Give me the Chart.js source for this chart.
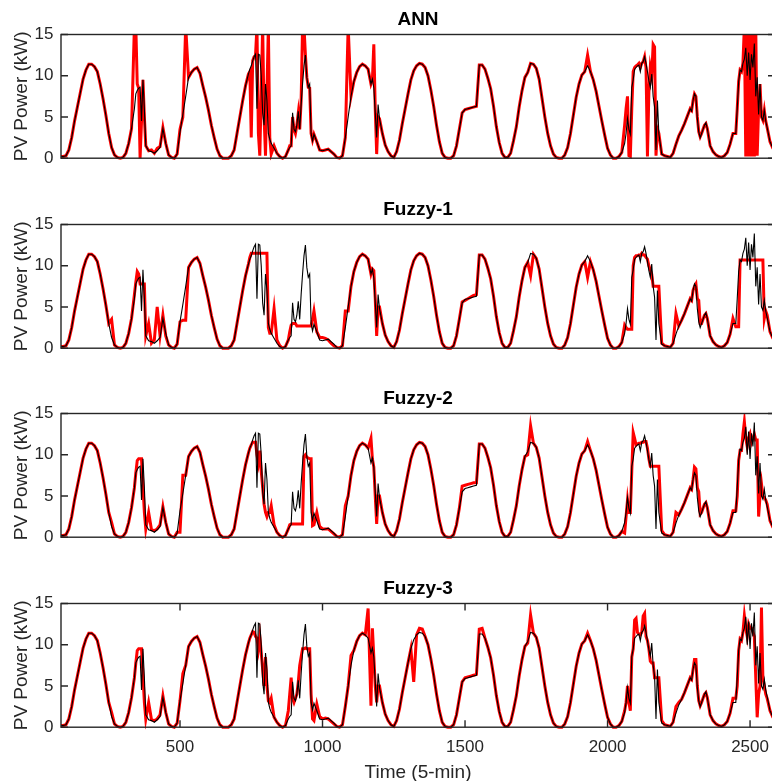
<!DOCTYPE html>
<html>
<head>
<meta charset="utf-8">
<script src="https://cdn.jsdelivr.net/npm/chart.js@4.4.1/dist/chart.umd.min.js"></script>
<style>
  html, body { margin: 0; padding: 0; background: #ffffff; }
  body { width: 772px; height: 781px; overflow: hidden; position: relative; }
  .panel { position: absolute; left: 0; }
  canvas { display: block; }
</style>
</head>
<body>
<div class="panel" style="top:0px"><canvas id="c0" width="790" height="190"></canvas></div>
<div class="panel" style="top:190px"><canvas id="c1" width="790" height="190"></canvas></div>
<div class="panel" style="top:379px"><canvas id="c2" width="790" height="190"></canvas></div>
<div class="panel" style="top:569px"><canvas id="c3" width="790" height="220"></canvas></div>
<script>
// ---- data: base samples every 10 time steps starting at step 80 ----
const timeStart = 80;
const timeStep = 10;

const actual = [
0.2,0.2,0.3,1.0,2.5,4.5,6.2,7.9,9.6,10.7,
11.4,11.4,11.1,10.5,9.0,7.2,5.2,3.0,1.3,0.4,
0.1,0.0,0.1,0.6,1.8,3.6,6.0,8.2,8.6,9.5,
1.5,0.9,0.8,0.6,0.9,1.3,3.6,1.8,0.4,0.1,
0.0,0.5,3.2,5.3,7.5,9.8,10.4,10.8,11.0,10.3,
8.8,7.4,5.8,4.0,2.5,1.1,0.3,0.0,0.0,0.0,
0.3,1.0,3.0,5.0,7.0,8.8,10.2,11.2,12.3,6.0,
12.5,5.5,9.0,3.0,1.8,1.2,0.6,0.2,0.0,0.2,
1.0,1.5,3.5,4.0,3.5,9.0,12.5,8.6,3.0,2.9,
2.0,1.0,0.9,1.0,1.1,0.8,0.5,0.1,0.0,0.3,
2.5,5.0,7.5,9.3,10.4,11.1,11.4,11.2,10.8,9.0,
8.5,2.5,4.8,3.0,1.6,0.8,0.3,0.1,0.8,2.2,
4.2,6.0,7.8,9.5,10.6,11.2,11.5,11.4,11.0,10.0,
8.3,6.3,4.0,2.0,0.6,0.1,0.0,0.0,0.3,1.5,
3.5,5.5,5.9,6.0,6.1,6.2,6.3,11.3,11.3,10.8,
9.7,8.4,6.3,3.8,1.9,0.6,0.1,0.1,0.6,2.1,
3.8,6.2,8.2,9.8,10.4,11.5,11.4,10.9,9.6,7.3,
5.0,3.0,1.5,0.5,0.1,0.0,0.0,0.4,1.3,3.0,
5.2,7.4,9.0,10.1,10.5,11.2,10.5,9.5,8.1,6.3,
4.5,2.8,1.2,0.4,0.0,0.0,0.2,0.7,1.8,4.8,
2.9,9.5,11.0,11.3,11.5,12.3,10.5,8.6,7.5,1.0,
3.0,0.5,0.3,0.2,0.1,0.6,1.7,2.7,3.4,4.2,
5.1,6.0,7.0,7.5,3.2,3.0,4.0,3.6,1.5,0.8,
0.4,0.2,0.1,0.3,0.7,1.7,3.0,3.0,9.3,10.5,
12.0,10.0,9.5,11.0,7.5,5.3,5.0,5.8,3.7,2.0,
1.2,0.8
];

const ann = [
0.2,0.2,0.3,1.0,2.5,4.5,6.2,7.9,9.6,10.7,
11.4,11.4,11.1,10.5,9.0,7.2,5.2,3.0,1.3,0.4,
0.1,0.0,0.1,0.6,1.8,3.6,16,9.0,0.0,9.5,
1.5,0.9,1.0,0.6,1.2,1.4,3.7,1.8,0.4,0.1,
0.0,0.5,3.5,5.0,16,9.8,10.4,10.8,11.0,10.3,
8.8,7.4,5.8,4.0,2.5,1.1,0.3,0.0,0.0,0.0,
0.3,1.0,3.0,5.0,7.0,8.8,10.2,2.5,12.3,16,
0.3,16,0.3,16,0.5,1.5,0.6,0.2,0.0,0.2,
1.0,1.5,3.5,4.0,3.5,16,12.5,8.6,3.0,2.9,
2.0,1.0,0.9,1.0,1.1,0.8,0.5,0.1,0.0,0.3,
2.5,16,7.5,9.3,10.4,11.1,11.4,11.2,10.8,9.0,
13.8,0.5,4.8,3.0,1.6,0.8,0.3,0.1,0.8,2.2,
4.2,6.0,7.8,9.5,10.6,11.2,11.5,11.4,11.0,10.0,
8.3,6.3,4.0,2.0,0.6,0.1,0.0,0.0,0.3,1.5,
3.5,5.5,5.9,6.0,6.1,6.2,6.3,11.3,11.3,10.8,
9.7,8.4,6.3,3.8,1.9,0.6,0.1,0.1,0.6,2.1,
3.8,6.2,8.2,9.8,10.4,11.5,11.4,10.9,9.6,7.3,
5.0,3.0,1.5,0.5,0.1,0.0,0.0,0.4,1.3,3.0,
5.2,7.4,9.0,10.1,10.5,12.5,10.5,9.5,8.1,6.3,
4.5,2.8,1.2,0.4,0.0,0.0,0.2,0.7,4.0,7.5,
0.2,10.5,11.2,11.5,11.5,12.3,0.2,11.0,13.8,0.3,
3.0,0.5,0.3,0.2,0.1,0.6,1.7,2.7,3.4,4.2,
5.1,6.0,7.0,7.5,3.2,3.0,4.0,3.6,1.5,0.8,
0.4,0.2,0.1,0.3,0.7,1.7,3.0,3.0,9.3,10.5,
16,16,16,16,16,6.0,5.0,5.8,3.7,2.0,
1.2,0.8
];

const fuzzy1 = [
0.2,0.2,0.3,1.0,2.5,4.5,6.2,7.9,9.6,10.7,
11.4,11.4,11.1,10.5,9.0,7.2,5.2,3.0,3.5,0.4,
0.1,0.0,0.1,0.6,1.8,3.6,6.5,9.3,7.8,7.8,
1.5,3.0,0.6,1.0,5.0,1.5,4.0,1.5,0.4,0.1,
0.0,0.5,3.2,3.4,3.4,9.8,10.4,10.8,11.0,10.3,
8.8,7.4,5.8,4.0,2.5,1.1,0.3,0.0,0.0,0.0,
0.3,1.0,3.0,5.0,7.0,8.8,10.2,11.5,11.5,11.5,
11.5,11.5,11.5,2.5,1.8,4.8,1.0,0.3,0.0,0.2,
1.0,2.8,3.0,2.7,2.7,2.7,2.7,2.7,2.7,4.5,
2.0,1.3,1.3,1.2,1.0,0.6,0.3,0.1,0.0,0.3,
4.5,4.5,7.5,9.3,10.4,11.1,11.4,11.2,10.8,9.0,
9.4,1.5,5.0,3.0,1.6,0.8,0.3,0.1,0.8,2.2,
4.2,6.0,7.8,9.5,10.6,11.2,11.5,11.4,11.0,10.0,
8.3,6.3,4.0,2.0,0.6,0.1,0.0,0.0,0.3,1.5,
3.5,5.6,5.8,6.0,6.2,6.4,6.5,11.3,11.3,10.8,
9.7,8.4,6.3,3.8,1.9,0.6,0.1,0.1,0.6,2.1,
3.8,6.2,8.2,9.8,10.4,8.8,11.4,10.9,9.6,7.3,
5.0,3.0,1.5,0.5,0.1,0.0,0.0,0.4,1.3,3.0,
5.2,7.4,9.0,10.1,10.5,8.6,10.5,9.5,8.1,6.3,
4.5,2.8,1.2,0.4,0.0,0.0,0.2,0.7,2.8,2.3,
2.3,10.0,11.2,11.3,11.5,11.3,10.8,9.5,7.5,7.5,
7.5,0.6,0.3,0.2,0.1,0.6,4.2,2.7,3.4,4.2,
5.1,6.0,7.0,7.8,5.8,3.0,4.0,3.6,1.5,0.8,
0.4,0.2,0.1,0.3,0.7,1.7,3.6,2.6,2.6,10.7,
10.7,10.7,10.7,10.7,10.7,10.7,10.7,3.6,4.0,2.0,
1.2,0.8
];

const fuzzy2 = [
0.2,0.2,0.3,1.0,2.5,4.5,6.2,7.9,9.6,10.7,
11.4,11.4,11.1,10.5,9.0,7.2,5.2,3.0,1.8,0.4,
0.1,0.0,0.1,0.6,1.8,3.6,6.0,9.3,9.5,6.2,
1.0,3.0,0.9,0.8,1.0,1.5,3.7,1.8,0.4,0.1,
0.0,0.6,0.6,7.5,7.5,9.8,10.4,10.8,11.0,10.3,
8.8,7.4,5.8,4.0,2.5,1.1,0.3,0.0,0.0,0.0,
0.3,1.0,3.0,5.0,7.0,8.8,10.2,11.2,11.5,10.0,
10.5,6.0,3.0,3.0,3.8,1.5,0.6,0.2,0.0,0.2,
1.0,1.6,1.6,1.6,1.6,1.6,10.0,9.6,9.5,1.5,
3.0,1.3,1.0,1.0,1.0,0.7,0.4,0.1,0.0,0.3,
3.8,5.0,7.5,9.3,10.4,11.1,11.4,11.2,10.8,12.0,
8.5,1.6,5.0,3.0,1.6,0.8,0.3,0.1,0.8,2.2,
4.2,6.0,7.8,9.5,10.6,11.2,11.5,11.4,11.0,10.0,
8.3,6.3,4.0,2.0,0.6,0.1,0.0,0.0,0.3,1.5,
3.5,6.2,6.3,6.4,6.5,6.6,6.6,11.3,11.3,10.8,
9.7,8.4,6.3,3.8,1.9,0.6,0.1,0.1,0.6,2.1,
3.8,6.2,8.2,9.8,10.0,13.5,11.4,10.9,9.6,7.3,
5.0,3.0,1.5,0.5,0.1,0.0,0.0,0.4,1.3,3.0,
5.2,7.4,9.0,10.1,10.5,11.6,10.5,9.5,8.1,6.3,
4.5,2.8,1.2,0.4,0.0,0.0,0.2,0.7,0.5,4.5,
3.0,12.7,11.2,11.4,11.5,11.6,10.8,8.6,8.6,8.6,
8.6,0.8,0.3,0.2,0.1,0.6,3.0,2.7,3.4,4.2,
5.1,6.0,7.0,8.3,5.5,3.0,4.0,3.6,1.5,0.8,
0.4,0.2,0.1,0.3,0.7,1.7,3.2,3.2,9.3,10.5,
14.0,11.0,12.5,12.0,11.8,2.5,6.5,4.8,4.0,2.0,
1.2,0.8
];

const fuzzy3 = [
0.2,0.2,0.3,1.0,2.5,4.5,6.2,7.9,9.6,10.7,
11.4,11.4,11.1,10.5,9.0,7.2,5.2,3.0,1.8,0.4,
0.1,0.0,0.1,0.6,1.8,3.6,6.0,9.3,9.5,6.3,
1.0,3.0,0.9,0.8,1.0,1.5,3.8,1.8,0.4,0.1,
0.0,0.5,3.2,6.5,7.5,9.8,10.4,10.8,11.0,10.3,
8.8,7.4,5.8,4.0,2.5,1.1,0.3,0.0,0.0,0.0,
0.3,1.0,3.0,5.0,7.0,8.8,10.2,11.2,11.5,10.8,
11.0,7.0,8.5,3.2,3.5,1.2,0.6,0.2,0.0,0.2,
2.0,6.0,3.0,4.0,7.5,9.5,9.6,9.5,4.0,0.8,
2.8,1.3,1.0,1.1,1.0,0.7,0.4,0.1,0.0,0.3,
2.5,5.0,8.7,9.3,10.4,11.1,11.4,11.2,14.4,2.6,
8.5,3.0,5.0,3.0,1.6,0.8,0.3,0.1,0.8,2.2,
4.2,6.0,7.8,9.5,5.5,11.2,12.0,11.9,11.0,10.0,
8.3,6.3,4.0,2.0,0.6,0.1,0.0,0.0,0.3,1.5,
3.5,5.5,6.0,6.1,6.2,6.3,6.4,11.9,12.0,10.8,
9.7,8.4,6.3,3.8,1.9,0.6,0.1,0.1,0.6,2.1,
3.8,6.2,8.2,9.8,10.2,13.6,11.4,10.9,9.6,7.3,
5.0,3.0,1.5,0.5,0.1,0.0,0.0,0.4,1.3,3.0,
5.2,7.4,9.0,10.1,10.5,11.4,10.5,9.5,8.1,6.3,
4.5,2.8,1.2,0.4,0.0,0.0,0.2,0.7,2.0,5.0,
2.0,9.5,13.2,11.3,11.5,13.8,10.5,8.0,7.8,6.0,
6.0,0.8,0.3,0.2,0.1,0.6,2.5,3.0,3.4,4.2,
5.1,6.0,7.0,8.2,3.2,3.0,4.0,3.6,1.5,0.8,
0.4,0.2,0.1,0.3,0.7,1.7,3.5,3.5,9.3,10.5,
13.5,11.0,12.0,11.5,6.0,4.0,14.5,5.0,3.5,2.0,
1.2,0.8
];

// ---- extra samples in the cloudy stretches (time steps and values) ----
const detailTime = [
345,355,365,375,
735,745,755,765,775,785,795,805,815,
885,895,905,915,925,935,945,955,965,
1175,1185,1195,
2065,2075,2085,2095,2105,2115,2125,2135,2145,2155,2165,2175,
2295,2305,2315,2325,2335,2345,
2455,2465,2475,2485,2495,2505,2515,2525,2535,2545,2555
];
const actualDetail = [
7.8,8.5,4.5,6.0,
9.5,10.8,11.8,12.6,12.6,10.0,4.0,7.0,2.3,
1.3,5.5,3.2,5.7,6.5,11.2,9.8,9.0,2.1,
9.6,5.5,6.5,
3.0,3.5,8.6,10.8,11.2,10.5,11.7,11.5,9.4,10.2,6.2,7.0,
5.7,7.8,4.8,2.5,3.5,4.3,
6.0,10.7,11.5,13.4,12.8,12.6,13.9,9.8,9.0,4.6,4.5
];
const annDetail = [
16,8.5,4.5,5.0,
9.5,10.5,11.8,12.5,3.0,8.0,5.0,8.0,2.5,
1.5,5.0,3.0,5.5,7.0,16,9.8,8.5,2.2,
9.5,6.0,5.0,
6.0,0.3,6.0,11.0,11.3,11.0,11.7,11.0,8.0,10.0,13.5,3.5,
5.8,7.8,5.0,2.6,3.5,4.2,
6.0,10.7,11.5,0.2,0.2,0.2,0.2,0.3,9.0,4.6,4.5
];
const fuzzy1Detail = [
8.0,9.0,7.8,7.8,
9.5,11.0,11.5,11.5,11.5,11.5,11.5,11.5,1.8,
2.0,3.0,3.0,2.7,2.7,2.7,2.7,2.7,3.5,
9.6,6.0,5.0,
2.5,2.3,2.3,11.0,11.2,11.2,11.3,11.0,10.0,9.0,7.5,7.5,
5.8,7.5,6.0,3.0,3.5,4.2,
2.6,10.7,10.7,10.7,10.7,10.7,10.7,10.7,10.7,10.7,4.5
];
const fuzzy2Detail = [
7.8,9.5,9.5,3.0,
9.5,10.8,11.5,11.5,9.0,8.0,4.0,2.5,3.0,
1.5,1.6,1.6,1.6,1.6,9.8,9.7,9.5,1.4,
9.5,5.0,5.0,
2.5,3.0,8.0,12.0,11.3,11.4,11.5,11.6,9.5,8.6,8.6,8.6,
5.8,8.5,6.0,2.8,3.5,4.2,
5.0,10.5,12.5,12.0,12.0,11.5,12.5,11.8,5.0,5.0,4.5
];
const fuzzy3Detail = [
7.8,9.5,9.5,3.0,
9.5,10.8,11.6,11.0,9.5,9.0,5.0,5.0,3.0,
4.0,3.5,3.5,5.5,8.5,9.5,9.5,9.5,1.0,
12.0,5.0,5.0,
3.0,3.0,8.5,13.0,11.5,11.2,13.5,11.0,9.5,7.8,6.0,6.0,
5.8,8.2,5.0,2.6,3.5,4.2,
5.0,10.7,11.5,12.0,12.5,12.0,11.0,1.2,5.0,6.0,4.0
];

const panelTitles = ['ANN', 'Fuzzy-1', 'Fuzzy-2', 'Fuzzy-3'];
const xTickValues = [500, 1000, 1500, 2000, 2500];
const yTickValues = [0, 5, 10, 15];
const xRange = [82.5, 2587.5];
const yRange = [0, 15];

// ---- drawing ----
const FONT = '"Liberation Sans", Arial, Helvetica, sans-serif';
const AXIS = '#262626';

function buildSeries(base, detail) {
  const pts = base.map((v, i) => ({ x: timeStart + i * timeStep, y: v }));
  detailTime.forEach((t, i) => pts.push({ x: t, y: detail[i] }));
  pts.sort((a, b) => a.x - b.x);
  return pts;
}

const axesBox = {
  id: 'axesBox',
  afterDatasetsDraw(chart, args, opts) {
    const { ctx, chartArea: a, scales } = chart;
    ctx.save();
    ctx.strokeStyle = AXIS;
    ctx.lineWidth = 1.4;
    ctx.strokeRect(a.left, a.top, a.right - a.left, a.bottom - a.top);
    const tl = 7;
    ctx.beginPath();
    yTickValues.forEach(v => {
      const y = scales.y.getPixelForValue(v);
      ctx.moveTo(a.left, y); ctx.lineTo(a.left + tl, y);
      ctx.moveTo(a.right, y); ctx.lineTo(a.right - tl, y);
    });
    if (opts.xTicks) {
      xTickValues.forEach(v => {
        const x = scales.x.getPixelForValue(v);
        ctx.moveTo(x, a.bottom); ctx.lineTo(x, a.bottom - tl);
        ctx.moveTo(x, a.top); ctx.lineTo(x, a.top + tl);
      });
    }
    ctx.stroke();
    ctx.restore();
  }
};

const actualPts = buildSeries(actual, actualDetail);
const predictions = [
  buildSeries(ann, annDetail),
  buildSeries(fuzzy1, fuzzy1Detail),
  buildSeries(fuzzy2, fuzzy2Detail),
  buildSeries(fuzzy3, fuzzy3Detail)
];
const clipBox = { left: 0, top: 0, right: 0, bottom: 2 };

predictions.forEach((pred, idx) => {
  const isBottom = idx === 3;
  const canvas = document.getElementById('c' + idx);
  new Chart(canvas, {
    type: 'line',
    data: {
      datasets: [
        { data: actualPts, borderColor: '#000000', borderWidth: 1.1, pointRadius: 0, tension: 0, clip: clipBox },
        { data: pred, borderColor: '#ff0000', borderWidth: 3, pointRadius: 0, tension: 0, clip: clipBox }
      ]
    },
    options: {
      responsive: false,
      animation: false,
      events: [],
      layout: { padding: { left: 0, right: 15, top: 0, bottom: 0 } },
      plugins: {
        legend: { display: false },
        tooltip: { enabled: false },
        title: {
          display: true, text: panelTitles[idx], color: '#000000', fullSize: false,
          font: { family: FONT, size: 19, weight: 'bold', lineHeight: 1.2 },
          padding: { top: 8.2, bottom: 3.5 }
        },
        axesBox: { xTicks: isBottom }
      },
      scales: {
        x: {
          type: 'linear', min: xRange[0], max: xRange[1],
          grid: { display: false, drawTicks: false },
          border: { display: false },
          ticks: {
            display: isBottom, color: AXIS, font: { family: FONT, size: 17 }, padding: 9.6, maxRotation: 0,
            callback: v => String(v)
          },
          afterBuildTicks: s => { s.ticks = xTickValues.map(v => ({ value: v })); },
          afterFit: s => { s.height = isBottom ? 61.8 : 31.8; },
          title: {
            display: isBottom, text: 'Time (5-min)', color: AXIS,
            font: { family: FONT, size: 19, lineHeight: 1.2 }, padding: { top: 0, bottom: 4.6 }
          }
        },
        y: {
          min: yRange[0], max: yRange[1],
          grid: { display: false, drawTicks: false },
          border: { display: false },
          ticks: { color: AXIS, font: { family: FONT, size: 17 }, padding: 7.5, callback: v => String(v) },
          afterBuildTicks: s => { s.ticks = yTickValues.map(v => ({ value: v })); },
          afterFit: s => { s.width = 61; },
          title: {
            display: true, text: 'PV Power (kW)', color: AXIS,
            font: { family: FONT, size: 19, lineHeight: 1.2 }, padding: { top: 10.3, bottom: 0 }
          }
        }
      }
    },
    plugins: [axesBox]
  });
});
</script>
</body>
</html>
